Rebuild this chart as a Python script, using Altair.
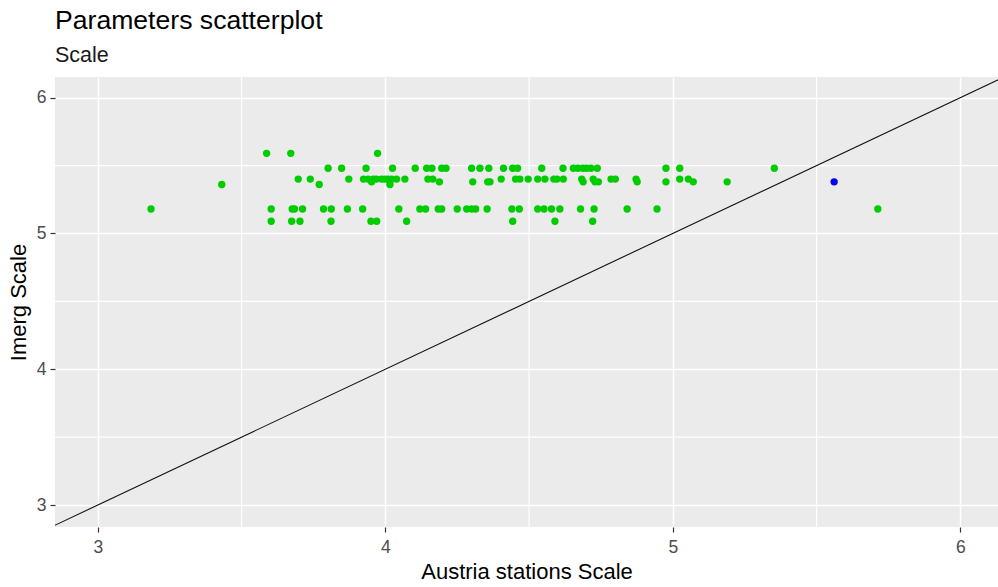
import altair as alt
import pandas as pd

# Station scale values grouped by the IMERG scale level they pair with
imerg_levels = [5.59, 5.48, 5.40, 5.38, 5.36, 5.18, 5.09]
station_by_level = [
    [3.587, 3.671, 3.973],
    [3.801, 3.848, 3.933, 4.025, 4.104, 4.144, 4.162, 4.196, 4.211, 4.300,
     4.329, 4.360, 4.411, 4.443, 4.460, 4.544, 4.618, 4.654, 4.670, 4.687,
     4.700, 4.715, 4.737, 4.976, 5.024, 5.353],
    [3.697, 3.739, 3.873, 3.924, 3.940, 3.958, 3.969, 3.987, 3.999, 4.010,
     4.022, 4.039, 4.068, 4.148, 4.165, 4.403, 4.453, 4.468, 4.497, 4.530,
     4.555, 4.586, 4.597, 4.619, 4.683, 4.723, 4.785, 4.800, 4.872, 5.024,
     5.054],
    [3.952, 4.188, 4.304, 4.356, 4.364, 4.688, 4.729, 4.741, 4.876, 4.976,
     5.071, 5.189],
    [3.431, 3.770, 4.016],
    [3.185, 3.603, 3.676, 3.684, 3.712, 3.785, 3.812, 3.868, 3.921, 4.047,
     4.120, 4.140, 4.184, 4.196, 4.250, 4.283, 4.300, 4.314, 4.354, 4.440,
     4.466, 4.530, 4.552, 4.578, 4.607, 4.679, 4.726, 4.841, 4.945, 5.713],
    [3.603, 3.674, 3.703, 3.811, 3.950, 3.970, 4.074, 4.443, 4.590, 4.721],
]
# The single highlighted station
highlight_station = [5.561]
highlight_imerg = [5.38]

minor_breaks = [3.5, 4.5, 5.5]
major_breaks = [3, 4, 5, 6]
identity_ends = [2.5, 6.5]

rows = []
for lvl, xs in zip(imerg_levels, station_by_level):
    for xv in xs:
        rows.append({"station": xv, "imerg": lvl, "group": "other"})
for xv, yv in zip(highlight_station, highlight_imerg):
    rows.append({"station": xv, "imerg": yv, "group": "highlight"})
points = pd.DataFrame(rows)

x_scale = alt.Scale(domain=[2.851, 6.131], nice=False, zero=False)
y_scale = alt.Scale(domain=[2.838, 6.152], nice=False, zero=False)

FONT = "Liberation Sans"
axis_common = dict(
    grid=True, gridColor="white", gridWidth=1.5,
    domain=False, tickColor="#333333", tickSize=5, tickWidth=1.2,
    labelColor="#4D4D4D", labelFontSize=17.5, labelFont=FONT,
    titleColor="black", titleFontSize=22, titleFont=FONT,
    titleFontWeight="normal", values=major_breaks, format="d",
)

minor_x = alt.Chart(pd.DataFrame({"v": minor_breaks})).mark_rule(
    color="white", strokeWidth=1.2
).encode(x=alt.X("v:Q", scale=x_scale))
minor_y = alt.Chart(pd.DataFrame({"v": minor_breaks})).mark_rule(
    color="white", strokeWidth=1.2
).encode(y=alt.Y("v:Q", scale=y_scale))

base_axes = alt.Chart(points).mark_point(opacity=0).encode(
    x=alt.X("station:Q", scale=x_scale,
            axis=alt.Axis(title="Austria stations Scale", labelPadding=6,
                          titlePadding=6, **axis_common)),
    y=alt.Y("imerg:Q", scale=y_scale,
            axis=alt.Axis(title="Imerg Scale", labelPadding=4,
                          titlePadding=6, **axis_common)),
)

identity = alt.Chart(pd.DataFrame({"a": identity_ends})).mark_line(
    color="#111111", strokeWidth=1.1, clip=True
).encode(
    x=alt.X("a:Q", scale=x_scale),
    y=alt.Y("a:Q", scale=y_scale),
)

dots = alt.Chart(points).mark_circle(size=54, opacity=1).encode(
    x=alt.X("station:Q", scale=x_scale),
    y=alt.Y("imerg:Q", scale=y_scale),
    color=alt.Color("group:N",
                    scale=alt.Scale(domain=["other", "highlight"],
                                    range=["#00CD00", "#0000FF"]),
                    legend=None),
)

chart = alt.layer(base_axes, minor_x, minor_y, identity, dots).properties(
    width=943,
    height=450,
    autosize="none",
    padding={"left": 55, "top": 77, "right": 0, "bottom": 60},
    title=alt.TitleParams(
        text="Parameters scatterplot",
        subtitle="Scale",
        anchor="start",
        frame="group",
        font=FONT,
        fontSize=26.6,
        fontWeight="normal",
        color="black",
        subtitleFont=FONT,
        subtitleFontSize=21.5,
        subtitleColor="#1A1A1A",
        subtitlePadding=10,
        offset=10,
    ),
).configure_view(fill="#EBEBEB", strokeWidth=0)

chart.save("out.html", embed_options={"renderer": "svg", "actions": False})
